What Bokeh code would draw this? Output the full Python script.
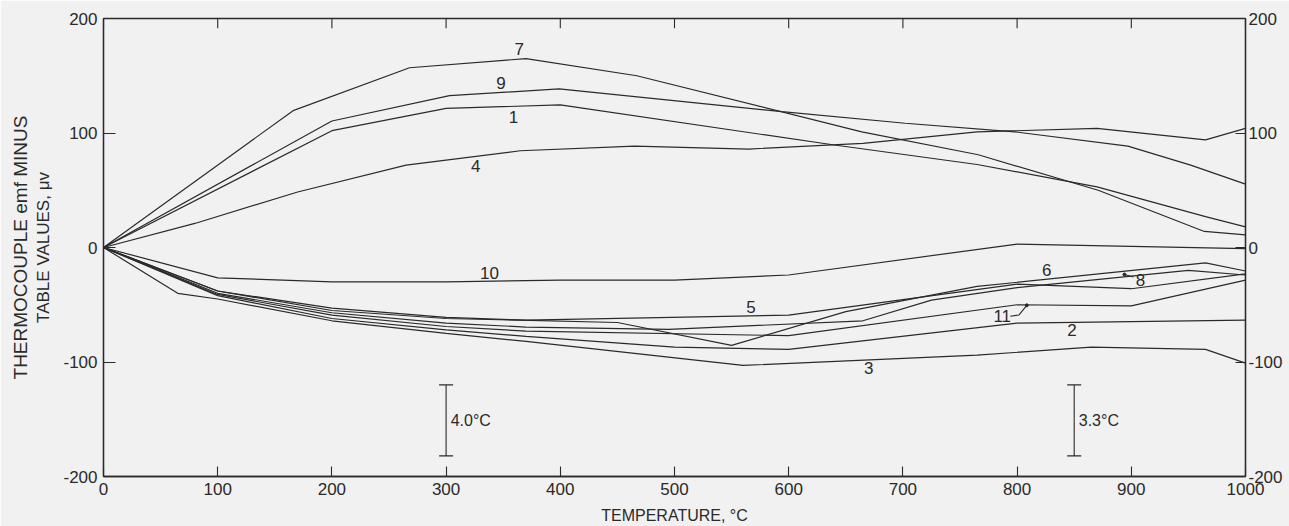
from bokeh.plotting import figure
from bokeh.models import LinearAxis, FixedTicker, Range1d, Whisker, TeeHead, ColumnDataSource
from bokeh.core.properties import value
from bokeh.embed import file_html
from bokeh.resources import INLINE

# ---- data (temperature, deg C ; emf difference, microvolts) ----
c1_x = [0, 200, 300, 400, 640, 765, 870, 965, 1000]
c1_y = [0, 102, 121.5, 124.5, 89.5, 72.5, 53, 27, 18]
c4_x = [0, 80, 170, 265, 365, 465, 565, 665, 765, 870, 965, 1000]
c4_y = [0, 21, 48.5, 72, 84.5, 88.5, 86, 91, 101, 104, 94, 104]
c7_x = [0, 166, 268, 370, 467, 664, 766, 871, 964, 1000]
c7_y = [0, 119.5, 157, 165, 150, 101, 81, 50, 14, 11]
c9_x = [0, 200, 303, 399, 594, 702, 798, 897, 952, 1000]
c9_y = [0, 110.5, 132.6, 138.5, 118.6, 108.5, 101, 88.6, 72, 55.4]
c10_x = [0, 100, 200, 300, 400, 500, 600, 800, 1000]
c10_y = [0, -26.5, -30, -30, -28.5, -28.5, -24, 3, -1]
c5_x = [0, 100, 200, 300, 370, 600, 800, 900, 1000]
c5_y = [0, -38, -53, -61, -63.5, -59, -32, -36, -23]
c6_x = [0, 100, 200, 300, 450, 550, 650, 765, 965, 1000]
c6_y = [0, -38, -55, -62, -65.5, -85.5, -56, -34, -13.5, -20.5]
c8_x = [0, 100, 200, 300, 370, 495, 665, 725, 800, 950, 1000]
c8_y = [0, -40, -57, -66, -69.5, -71.5, -64, -46, -35, -20, -24]
c11_x = [0, 100, 200, 300, 370, 600, 800, 900, 1000]
c11_y = [0, -41, -59, -69, -73, -77, -50, -51, -28.5]
c2_x = [0, 100, 200, 300, 370, 500, 600, 800, 1000]
c2_y = [0, -42, -62, -72, -77.6, -87, -89, -66, -63.5]
c3_x = [0, 65, 100, 200, 300, 370, 560, 765, 865, 965, 1000]
c3_y = [0, -40, -45, -64, -75, -82, -103, -94, -87, -89, -101]

curve_names = ["1", "2", "3", "4", "5", "6", "7", "8", "9", "10", "11"]
label_x = [359, 848, 670, 326, 567, 826, 364, 908, 348, 338, 787]
label_y = [114, -72, -105, 71, -52, -20, 173, -28.5, 143.5, -22, -60]

# leader hooks for labels 11 and 8
lead11_x = [794, 801.5, 808.5]
lead11_y = [-60, -59, -50.5]
lead8_x = [902, 894]
lead8_y = [-25.7, -23.6]

# uncertainty scale bars
bar_x = [300, 850]
bar_low = [-182, -182]
bar_high = [-120, -120]
bar_text = ["4.0°C", "3.3°C"]

x_ticks = [0, 100, 200, 300, 400, 500, 600, 700, 800, 900, 1000]
y_ticks = [-200, -100, 0, 100, 200]
y_tick_text = {-200: "-200", -100: "-100", 0: "0", 100: "100", 200: "200"}

FONT = "Liberation Sans"
INK = "#2a2a2a"
BG = "#f1f1f1"

p = figure(width=1289, height=526, output_backend="svg", toolbar_location=None,
           x_range=Range1d(0, 1000), y_range=Range1d(-200, 200),
           min_border_left=103, min_border_right=44, min_border_top=18, min_border_bottom=50,
           background_fill_color=BG, border_fill_color=BG)
p.grid.visible = False
p.outline_line_color = INK
p.outline_line_width = 1.3

series = [(c1_x, c1_y), (c2_x, c2_y), (c3_x, c3_y), (c4_x, c4_y), (c5_x, c5_y), (c6_x, c6_y),
          (c7_x, c7_y), (c8_x, c8_y), (c9_x, c9_y), (c10_x, c10_y), (c11_x, c11_y)]
for xs, ys in series:
    p.line(xs, ys, line_color=INK, line_width=1.2)

def style_axis(ax, tin):
    ax.major_tick_in = tin
    ax.major_tick_out = 0
    ax.minor_tick_line_color = None
    ax.axis_line_color = INK
    ax.axis_line_width = 1.3
    ax.major_tick_line_color = INK
    ax.major_tick_line_width = 1.1
    ax.major_label_text_font = FONT
    ax.major_label_text_font_size = "17px"
    ax.major_label_text_color = INK
    ax.axis_label_text_font = FONT
    ax.axis_label_text_font_style = "normal"
    ax.axis_label_text_color = INK

xa = p.xaxis[0]
xa.ticker = FixedTicker(ticks=x_ticks)
style_axis(xa, 10)
xa.major_label_standoff = 6
xa.axis_label = "TEMPERATURE, °C"
xa.axis_label_text_font_size = "16px"
xa.axis_label_standoff = 9

ya = p.yaxis[0]
ya.ticker = FixedTicker(ticks=y_ticks)
ya.major_label_overrides = y_tick_text
style_axis(ya, 12)
ya.major_label_standoff = 6
ya.axis_label = "TABLE VALUES, μv"
ya.axis_label_text_font_size = "17px"
ya.axis_label_standoff = 7

outer = LinearAxis(ticker=FixedTicker(ticks=[]), axis_label="THERMOCOUPLE emf MINUS")
style_axis(outer, 0)
outer.axis_line_color = None
outer.axis_label_text_font_size = "19px"
outer.axis_label_standoff = 1
p.add_layout(outer, "left")

right = LinearAxis(ticker=FixedTicker(ticks=y_ticks))
right.major_label_overrides = y_tick_text
style_axis(right, 10)
right.major_label_standoff = 3
p.add_layout(right, "right")

# inward tick marks along the top edge, at the x tick positions
p.segment(x0=x_ticks, y0=[200] * len(x_ticks), x1=x_ticks, y1=[191.5] * len(x_ticks),
          line_color=INK, line_width=1.1)

# curve labels
src = ColumnDataSource(dict(x=label_x, y=label_y, t=curve_names))
p.text("x", "y", text="t", source=src, text_font=value(FONT), text_font_size="17px",
       text_color=INK, text_align="center", text_baseline="middle")
p.line(lead11_x, lead11_y, line_color=INK, line_width=1.1)
p.scatter([lead11_x[-1]], [lead11_y[-1]], size=3, color=INK)
p.line(lead8_x, lead8_y, line_color=INK, line_width=1.1)
p.scatter([lead8_x[-1]], [lead8_y[-1]], size=3, color=INK)

# scale bars
bsrc = ColumnDataSource(dict(x=bar_x, lo=bar_low, hi=bar_high,
                             tx=[v + 4 for v in bar_x],
                             ty=[(a + b) / 2 for a, b in zip(bar_low, bar_high)], t=bar_text))
p.add_layout(Whisker(base="x", lower="lo", upper="hi", source=bsrc, dimension="height",
                     line_color=INK, line_width=1.1,
                     lower_head=TeeHead(size=14, line_color=INK, line_width=1.1),
                     upper_head=TeeHead(size=14, line_color=INK, line_width=1.1)))
p.text("tx", "ty", text="t", source=bsrc, text_font=value(FONT), text_font_size="16px",
       text_color=INK, text_align="left", text_baseline="middle")

open("out.html", "w").write(file_html(p, INLINE))
